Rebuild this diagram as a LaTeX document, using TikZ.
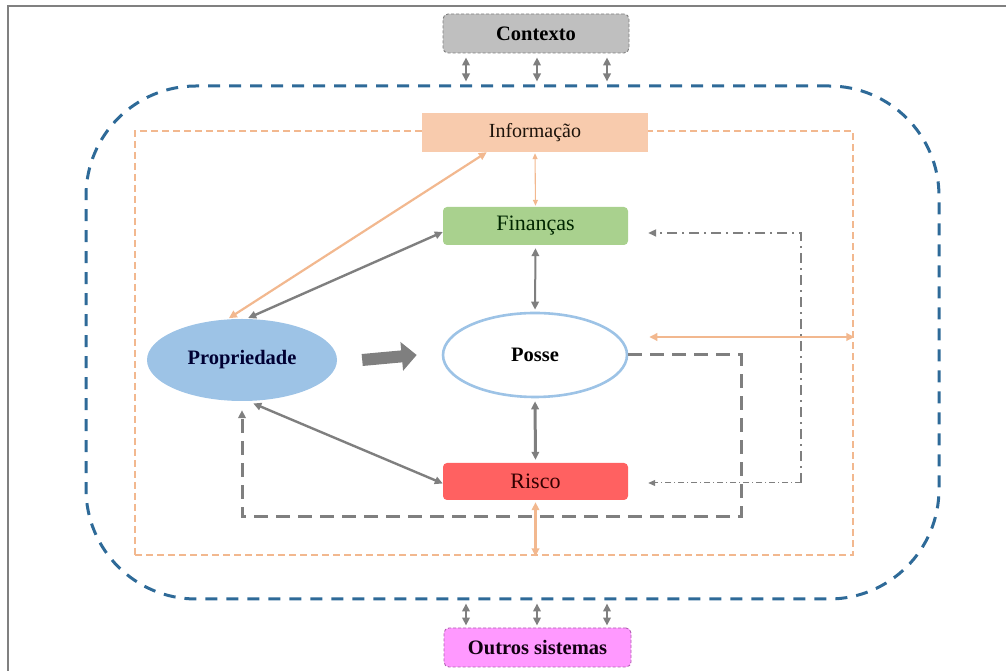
\documentclass[tikz,border=0pt]{standalone}
\usepackage{fontspec}
\setmainfont{Liberation Serif}
\usetikzlibrary{arrows.meta,calc,shapes.geometric}

\definecolor{frameline}{HTML}{808080}
\definecolor{sysblue}{HTML}{2E6A98}
\definecolor{orangeln}{HTML}{F2B88F}
\definecolor{infofill}{HTML}{F8CBAD}
\definecolor{finfill}{HTML}{A9D18E}
\definecolor{propfill}{HTML}{9DC3E6}
\definecolor{riskfill}{HTML}{FF6161}
\definecolor{ctxfill}{HTML}{BFBFBF}
\definecolor{othfill}{HTML}{FF99FF}
\definecolor{othline}{HTML}{B060B0}
\definecolor{arrowgray}{HTML}{7F7F7F}

\tikzset{
  x=1pt, y=1pt,
  txt/.style={font=\fontsize{20}{24}\selectfont},
  bigtxt/.style={font=\fontsize{22}{26}\selectfont},
  boldtxt/.style={font=\fontsize{20.5}{24}\selectfont\bfseries},
  extbox/.style={rounded corners=5pt, dashed, dash pattern=on 3pt off 2pt, line width=0.9pt, inner sep=0pt},
  midbox/.style={rounded corners=4pt, inner sep=0pt, minimum width=185pt, minimum height=38pt},
  gdbl/.style={draw=arrowgray, line width=2.4pt, {Triangle[length=8pt,width=7.5pt]}-{Triangle[length=8pt,width=7.5pt]}},
  odbl/.style={draw=orangeln, line width=2.2pt, {Triangle[length=8pt,width=7.5pt]}-{Triangle[length=8pt,width=7.5pt]}},
  othin/.style={draw=orangeln, line width=1.1pt, {Triangle[length=6pt,width=5pt]}-{Triangle[length=6pt,width=5pt]}},
  gloop/.style={draw=arrowgray, line width=3pt, dash pattern=on 14pt off 8pt, -{Triangle[length=8pt,width=7.5pt]}},
  gdashdot/.style={draw=arrowgray, line width=2.2pt, dash pattern=on 10pt off 5pt on 2pt off 5pt, -{Triangle[length=8pt,width=7pt]}},
  gdashdotthin/.style={draw=arrowgray, line width=1pt, dash pattern=on 6pt off 3pt on 1pt off 3pt, -{Triangle[length=7pt,width=6pt]}},
}

\begin{document}
\begin{tikzpicture}
\useasboundingbox (0,0) rectangle (1006,671);

% page frame (left and top edges)
\draw[frameline, line width=1.6pt] (8,0) -- (8,665) -- (1006,665);

% system boundary and information layer
\node[draw=sysblue, line width=3pt, dash pattern=on 12pt off 9pt, rounded corners=110pt,
      minimum width=853pt, minimum height=513pt, inner sep=0pt] (sys) at (512.5,328.5) {};
\node[draw=orangeln, line width=2.8pt, dash pattern=on 7pt off 4pt,
      minimum width=718pt, minimum height=424pt, inner sep=0pt] (ofr) at (494,328) {};

% external boxes
\node[extbox, draw=arrowgray, fill=ctxfill, minimum width=186pt, minimum height=39pt, boldtxt]
  (ctx) at (536,637.5) {Contexto};
\node[extbox, draw=othline, fill=othfill, minimum width=187pt, minimum height=39pt, boldtxt, text=black!85!violet]
  (oth) at (537.5,23.5) {Outros sistemas};

% inner blocks
\node[fill=infofill, minimum width=226pt, minimum height=39pt, inner sep=0pt, txt, text=black!85!brown]
  (info) at (535,538.5) {Informação};
\node[midbox, fill=finfill, bigtxt, text=black!85!green] (fin) at (535.5,445) {Finanças};
\node[midbox, fill=riskfill, minimum height=37pt, bigtxt, text=black!80!red] (risco) at (535.5,189.5) {Risco};
\node[ellipse, draw=propfill, line width=2.6pt, fill=white, minimum width=184pt, minimum height=84pt, inner sep=0pt, boldtxt]
  (posse) at (535,316) {Posse};
\node[ellipse, fill=propfill, minimum width=190pt, minimum height=82pt, inner sep=0pt, boldtxt, text=black!80!blue]
  (prop) at (242,311) {Propriedade};

% links to the outside
\coordinate (k1) at (466,0);
\coordinate (k2) at (537,0);
\coordinate (k3) at (607,0);
\foreach \k in {k1,k2,k3}{
  \draw[gdbl, shorten <=4pt, shorten >=3pt] (\k |- ctx.south) -- (\k |- sys.north);
  \draw[gdbl, shorten <=3pt, shorten >=2pt] (\k |- sys.south) -- (\k |- oth.north);
}

% information flows
\draw[othin, shorten <=1pt, shorten >=1pt] (info.south) -- (fin.north);
\draw[odbl, shorten >=2pt] ([xshift=65pt]info.south west) -- (prop.110);
\coordinate (po) at ([yshift=18pt]posse.east);
\draw[odbl, shorten <=21pt] (po) -- (po -| ofr.east);
\draw[odbl, shorten <=2pt] (risco.south) -- (risco.south |- ofr.south);

% relations between the blocks
\draw[gdbl, shorten >=2pt] ([yshift=-6pt]fin.west) -- (prop.84);
\draw[gdbl, line width=2pt, shorten <=3pt, shorten >=2pt] (fin.south) -- (posse.north);
\draw[gdbl, line width=3pt, shorten <=3pt, shorten >=3pt] (posse.south) -- (risco.north);
\draw[gdbl, shorten >=6pt] ([yshift=-2pt]risco.west) -- (prop.-82);

% transfer from ownership to possession
\draw[arrowgray, line width=12pt, -{Triangle[length=15pt,width=28pt]}]
  ([xshift=25pt]prop.east) -- ([xshift=-25pt]posse.west);

% feedback loop back to ownership
\coordinate (lp) at (741,154);
\draw[gloop, shorten >=9pt] (posse.east) -| (lp) -| (prop.south);

% feedback to finance and risk
\coordinate (dt) at (801,438);
\coordinate (db) at (801,188);
\draw[gdashdot, shorten >=20pt] (db) -- (dt) -- (dt -| fin.east);
\draw[gdashdotthin, shorten >=20pt] (db) -- (db -| risco.east);
\end{tikzpicture}
\end{document}
